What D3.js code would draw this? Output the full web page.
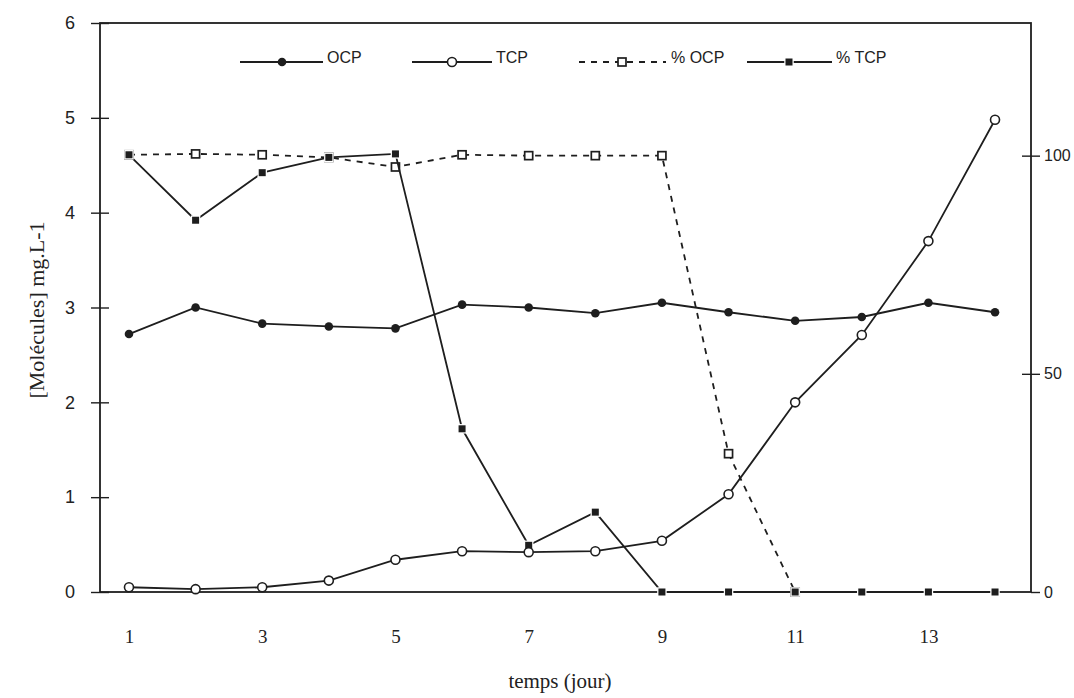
<!DOCTYPE html>
<html>
<head>
<meta charset="utf-8">
<script src="https://cdn.jsdelivr.net/npm/d3@7"></script>
<style>
body { margin: 0; background: #fff; }
text { fill: #222; }
</style>
</head>
<body>
<div id="viz"></div>
<script>
// values
var days = [1, 2, 3, 4, 5, 6, 7, 8, 9, 10, 11, 12, 13, 14];
var ocp = [2.72, 3.0, 2.83, 2.8, 2.78, 3.03, 3.0, 2.94, 3.05, 2.95, 2.86, 2.9, 3.05, 2.95];
var tcp = [0.05, 0.03, 0.05, 0.12, 0.34, 0.43, 0.42, 0.43, 0.54, 1.03, 2.0, 2.71, 3.7, 4.98];
var pctOcp = [100.2, 100.4, 100.2, 99.6, 97.4, 100.2, 100, 100, 100, 31.7, 0, null, null, null];
var pctTcp = [100.2, 85.2, 96.1, 99.6, 100.4, 37.4, 10.7, 18.3, 0, 0, 0, 0, 0, 0];

var xTickLabels = [1, 3, 5, 7, 9, 11, 13];
var leftTicks = [0, 1, 2, 3, 4, 5, 6];
var rightTicks = [0, 50, 100];
var legendNames = ["OCP", "TCP", "% OCP", "% TCP"];

var W = 1074, H = 698;
var ink = "#1e1e1e";

var x = d3.scaleLinear().domain([0.565, 14.54]).range([100, 1031]);
var y = d3.scaleLinear().domain([0, 6]).range([592, 23]);
var y2 = d3.scaleLinear().domain([0, 130.4]).range([592, 23]);

var svg = d3.select("#viz").append("svg")
    .attr("width", W)
    .attr("height", H);

// frame
svg.append("rect")
    .attr("x", x.range()[0]).attr("y", y(6))
    .attr("width", x.range()[1] - x.range()[0])
    .attr("height", y(0) - y(6))
    .attr("fill", "none").attr("stroke", ink).attr("stroke-width", 1.8);

// left axis, ticks crossing the line
var left = svg.append("g")
    .attr("transform", "translate(" + x.range()[0] + ",0)")
    .call(d3.axisLeft(y).tickValues(leftTicks).tickFormat(d3.format("d")).tickSize(9).tickPadding(16));
left.select(".domain").remove();
left.selectAll(".tick line").attr("stroke", ink).attr("stroke-width", 1.4);
left.selectAll(".tick").append("line").attr("x2", 9).attr("stroke", ink).attr("stroke-width", 1.4);
left.selectAll(".tick text")
    .attr("font-family", "Liberation Sans, Arial, sans-serif")
    .attr("font-size", 18).attr("fill", "#333");

// right axis (percent)
var right = svg.append("g")
    .attr("transform", "translate(" + x.range()[1] + ",0)")
    .call(d3.axisRight(y2).tickValues(rightTicks).tickFormat(d3.format("d")).tickSize(9).tickPadding(4));
right.select(".domain").remove();
right.selectAll(".tick line").attr("stroke", ink).attr("stroke-width", 1.4);
right.selectAll(".tick").filter(function(d) { return d > 0; })
    .append("line").attr("x2", -9).attr("stroke", ink).attr("stroke-width", 1.4);
right.selectAll(".tick text")
    .attr("font-family", "Liberation Sans, Arial, sans-serif")
    .attr("font-size", 16).attr("fill", "#333");

// bottom axis labels only
var bottom = svg.append("g")
    .attr("transform", "translate(0," + y(0) + ")")
    .call(d3.axisBottom(x).tickValues(xTickLabels).tickSize(0).tickPadding(38));
bottom.select(".domain").remove();
bottom.selectAll(".tick text")
    .attr("font-family", "Liberation Serif, Times New Roman, serif")
    .attr("font-size", 19).attr("fill", "#333");

// axis titles
svg.append("text")
    .attr("x", 560).attr("y", 688)
    .attr("text-anchor", "middle")
    .attr("font-family", "Liberation Serif, Times New Roman, serif")
    .attr("font-size", 21)
    .text("temps (jour)");

svg.append("text")
    .attr("transform", "translate(44,310) rotate(-90)")
    .attr("text-anchor", "middle")
    .attr("font-family", "Liberation Serif, Times New Roman, serif")
    .attr("font-size", 22)
    .text("[Molécules] mg.L-1");

// series
var series = [
    {name: legendNames[2], vals: pctOcp, scale: y2, dash: "6,6", marker: "sq"},
    {name: legendNames[3], vals: pctTcp, scale: y2, dash: null, marker: "fsq"},
    {name: legendNames[0], vals: ocp, scale: y, dash: null, marker: "dot"},
    {name: legendNames[1], vals: tcp, scale: y, dash: null, marker: "circle"}
];

function drawMarker(g, type, cx, cy) {
    if (type == "dot") {
        g.append("circle").attr("cx", cx).attr("cy", cy).attr("r", 4.3)
            .attr("fill", ink);
    } else if (type == "circle") {
        g.append("circle").attr("cx", cx).attr("cy", cy).attr("r", 4.5)
            .attr("fill", "#fff").attr("stroke", ink).attr("stroke-width", 1.6);
    } else if (type == "sq") {
        g.append("rect").attr("x", cx - 4).attr("y", cy - 4).attr("width", 8).attr("height", 8)
            .attr("fill", "#fff").attr("stroke", ink).attr("stroke-width", 1.7);
    } else {
        g.append("rect").attr("x", cx - 3.5).attr("y", cy - 3.5).attr("width", 7).attr("height", 7)
            .attr("fill", ink).attr("stroke", "#fff").attr("stroke-width", 2.5)
            .attr("paint-order", "stroke");
    }
}

series.forEach(function(s) {
    var pts = days.map(function(d, i) { return [d, s.vals[i]]; });
    var line = d3.line()
        .defined(function(p) { return p[1] != null; })
        .x(function(p) { return x(p[0]); })
        .y(function(p) { return s.scale(p[1]); });
    svg.append("path")
        .datum(pts)
        .attr("d", line)
        .attr("fill", "none")
        .attr("stroke", ink)
        .attr("stroke-width", 1.8)
        .attr("stroke-dasharray", s.dash);
    var g = svg.append("g");
    pts.forEach(function(p) {
        if (p[1] != null) drawMarker(g, s.marker, x(p[0]), s.scale(p[1]));
    });
});

// legend
var legendY = 62;
var legendItems = [
    {name: legendNames[0], x0: 240, x1: 323, m: 282, tx: 327, dash: null, marker: "dot"},
    {name: legendNames[1], x0: 412, x1: 492, m: 452, tx: 496, dash: null, marker: "circle"},
    {name: legendNames[2], x0: 579, x1: 666, m: 622, tx: 671, dash: "6,6", marker: "sq"},
    {name: legendNames[3], x0: 747, x1: 832, m: 789, tx: 836, dash: null, marker: "fsq"}
];
var leg = svg.append("g");
legendItems.forEach(function(it) {
    leg.append("line")
        .attr("x1", it.x0).attr("x2", it.x1)
        .attr("y1", legendY).attr("y2", legendY)
        .attr("stroke", ink).attr("stroke-width", 1.8)
        .attr("stroke-dasharray", it.dash);
    drawMarker(leg, it.marker, it.m, legendY);
    leg.append("text")
        .attr("x", it.tx).attr("y", legendY + 1)
        .attr("font-family", "Liberation Sans Narrow, Liberation Sans, Arial, sans-serif")
        .attr("font-size", 16)
        .text(it.name);
});
</script>
</body>
</html>
